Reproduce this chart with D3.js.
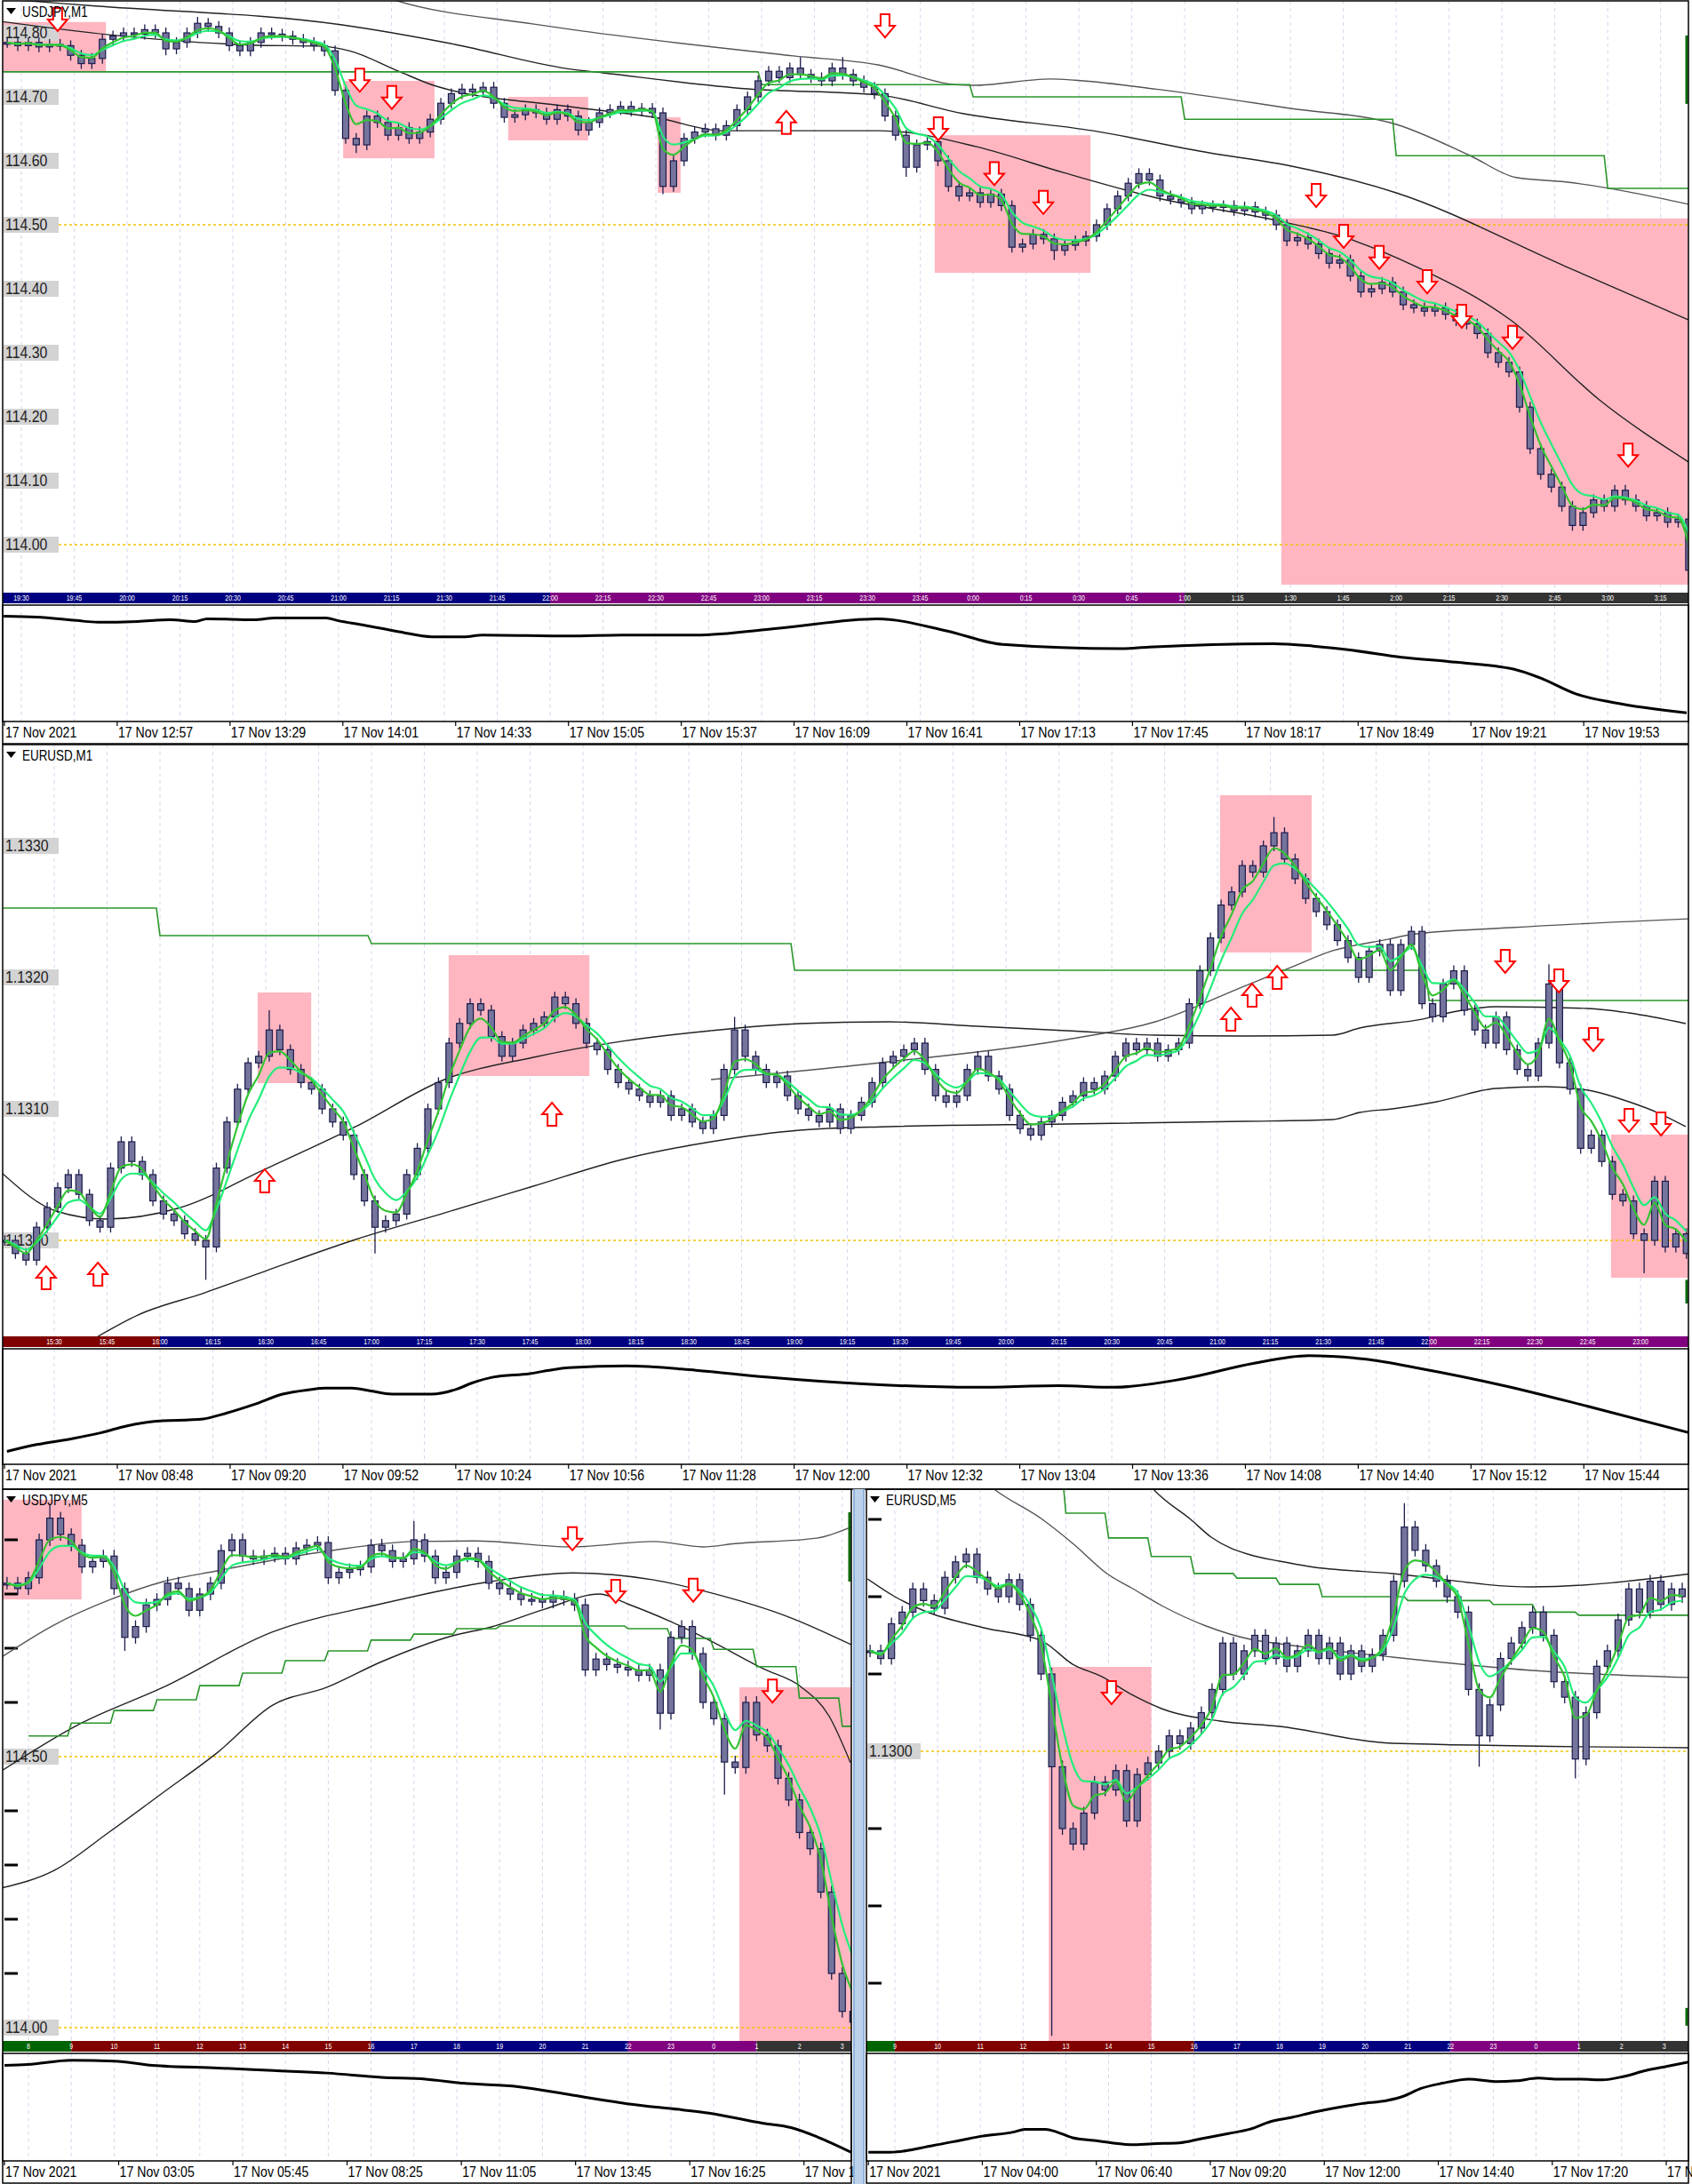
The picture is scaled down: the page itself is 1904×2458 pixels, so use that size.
<!DOCTYPE html>
<html>
<head>
<meta charset="utf-8">
<script src="https://cdn.jsdelivr.net/npm/d3@7"></script>
<style>
body { margin: 0; background: #fff; }
svg { display: block; }
text { font-family: 'Liberation Sans', Arial, sans-serif; }
</style>
</head>
<body>
<div id="chart"></div>
<script>
// ---------- USDJPY M1 (time = minutes after 19:30) ----------
var ujM1BarStart = -4, ujM1BarStep = 3;
var ujM1Close = [
  114.785, 114.780, 114.785, 114.778, 114.782, 114.780, 114.765, 114.752, 114.760, 114.790,
  114.795, 114.800, 114.798, 114.805, 114.800, 114.775, 114.785, 114.800, 114.815, 114.810,
  114.800, 114.780, 114.772, 114.785, 114.800, 114.798, 114.795, 114.790, 114.785, 114.780,
  114.772, 114.710, 114.635, 114.625, 114.670, 114.660, 114.640, 114.652, 114.635, 114.645,
  114.665, 114.690, 114.705, 114.712, 114.708, 114.715, 114.690, 114.668, 114.672, 114.680,
  114.675, 114.665, 114.680, 114.670, 114.648, 114.660, 114.675, 114.680, 114.685, 114.678,
  114.682, 114.675, 114.560, 114.600, 114.635, 114.645, 114.650, 114.640, 114.655, 114.680,
  114.700, 114.725, 114.740, 114.730, 114.745, 114.735, 114.730, 114.725, 114.745, 114.735,
  114.725, 114.715, 114.705, 114.670, 114.640, 114.590, 114.625, 114.630, 114.600, 114.560,
  114.545, 114.550, 114.535, 114.548, 114.530, 114.465, 114.470, 114.485, 114.478, 114.460,
  114.468, 114.475, 114.482, 114.500, 114.525, 114.545, 114.565, 114.580, 114.570, 114.545,
  114.540, 114.535, 114.525, 114.530, 114.528, 114.530, 114.522, 114.528, 114.520, 114.515,
  114.500, 114.475, 114.480, 114.470, 114.455, 114.440, 114.445, 114.420, 114.395, 114.400,
  114.410, 114.395, 114.375, 114.370, 114.365, 114.370, 114.360, 114.350, 114.345, 114.330,
  114.300, 114.285, 114.270, 114.215, 114.150, 114.110, 114.090, 114.060, 114.030, 114.050,
  114.070, 114.060, 114.085, 114.070, 114.060, 114.045, 114.050, 114.035, 114.040, 113.960
];
var ujM1Tails = [[15, 114.765], [18, 114.825], [33, 114.612], [62, 114.548], [75, 114.762], [79, 114.762],
  [85, 114.575], [99, 114.445], [108, 114.588], [159, 113.94]];
var ujM1MaSlow = [[100, 114.862], [106, 114.851], [145, 114.814], [155, 114.806], [219, 114.764], [243, 114.75],
  [265, 114.719], [270, 114.718], [292, 114.728], [299, 114.726], [322, 114.712], [360, 114.682],
  [390, 114.657], [411, 114.608], [424, 114.574], [438, 114.567], [473, 114.532]];
var ujM1MaMid = [[-5, 114.853], [21, 114.842], [91, 114.8125], [123, 114.782], [155, 114.744], [165, 114.7375],
  [206, 114.7125], [243, 114.703], [267, 114.674], [304, 114.647], [337, 114.6125], [360, 114.592],
  [390, 114.55], [438, 114.435], [473, 114.351]];
var ujM1MaFast = [[-6, 114.818], [25, 114.797], [65, 114.781], [85.5, 114.779], [93, 114.772], [107, 114.74],
  [117.5, 114.717], [155, 114.685], [180.5, 114.667], [199, 114.647], [243, 114.647], [248, 114.646],
  [271, 114.622], [296, 114.581], [322, 114.542], [355, 114.508], [375, 114.481], [395.5, 114.435],
  [422.5, 114.351], [447.7, 114.226], [473, 114.129]];
var ujM1Step = [[-6, 114.739], [210, 114.719], [270, 114.700], [330, 114.665], [390, 114.608], [450, 114.557]];
var ujM1StepEnd = 474;
var ujM1Boxes = [[-6, 24, 114.817, 114.74], [91.3, 117.2, 114.725, 114.604], [138.1, 160.8, 114.70, 114.632],
  [180.5, 187, 114.668, 114.55], [259.1, 303.3, 114.64, 114.425], [357.4, 474, 114.51, 113.9375]];
var ujM1Arrows = [[10.3, 114.821, 'd'], [96, 114.726, 'd'], [105.1, 114.699, 'd'], [217, 114.66, 'u'],
  [245, 114.811, 'd'], [260.1, 114.65, 'd'], [276, 114.58, 'd'], [289.9, 114.535, 'd'], [367.3, 114.546, 'd'],
  [375.1, 114.482, 'd'], [385.2, 114.449, 'd'], [398.8, 114.411, 'd'], [408.6, 114.357, 'd'],
  [423, 114.324, 'd'], [455.8, 114.14, 'd']];
var ujM1Sub = [[-5, 91.7], [4.3, 90.9], [15.6, 87.9], [21.7, 86.4], [33, 87.1], [42.3, 88.6], [49.4, 87.1],
  [52.7, 89.4], [66, 88.6], [72.1, 90.2], [86.5, 90.2], [89.7, 87.9], [96.8, 84.1], [107.1, 78], [116.5, 73.5],
  [125.5, 73.5], [130.8, 75], [155.3, 74.2], [170.4, 75], [191.3, 75], [215, 81.1], [242.8, 89.4], [262.4, 78.8],
  [278.3, 66.7], [311.6, 62.9], [319.9, 64.4], [355.2, 67.4], [366.5, 65.2], [377.9, 61.4], [391.5, 55.3],
  [404.8, 51.5], [423.5, 44.7], [430.8, 37.1], [441.1, 22.7], [451.7, 15.2], [472.4, 6.1]];
var ujM1Sessions = [[-10, 150, 'ny'], [150, 330, 'late'], [330, 480, 'asia']];
var ujM1StripLabels = ['19:30', '19:45', '20:00', '20:15', '20:30', '20:45', '21:00', '21:15', '21:30', '21:45',
  '22:00', '22:15', '22:30', '22:45', '23:00', '23:15', '23:30', '23:45', '0:00', '0:15', '0:30', '0:45',
  '1:00', '1:15', '1:30', '1:45', '2:00', '2:15', '2:30', '2:45', '3:00', '3:15'];
var ujM1AxisLabels = ['17 Nov 2021', '17 Nov 12:57', '17 Nov 13:29', '17 Nov 14:01', '17 Nov 14:33', '17 Nov 15:05',
  '17 Nov 15:37', '17 Nov 16:09', '17 Nov 16:41', '17 Nov 17:13', '17 Nov 17:45', '17 Nov 18:17',
  '17 Nov 18:49', '17 Nov 19:21', '17 Nov 19:53'];
var ujM1PriceLabels = [114.8, 114.7, 114.6, 114.5, 114.4, 114.3, 114.2, 114.1, 114.0];
var ujM1PriceTicks = [];
var ujM1Round = [114.5, 114.0];
var ujM1Marker = [114.689, 114.796];

// ---------- EURUSD M1 (time = minutes after 15:30) ----------
var euM1BarStart = -14, euM1BarStep = 3;
var euM1Close = [
  1.13000, 1.12990, 1.12985, 1.13010, 1.13025, 1.13040, 1.13050, 1.13035, 1.13015, 1.13010,
  1.13055, 1.13075, 1.13060, 1.13050, 1.13030, 1.13020, 1.13015, 1.13005, 1.13000, 1.12995,
  1.13055, 1.13090, 1.13115, 1.13135, 1.13140, 1.13160, 1.13145, 1.13130, 1.13120, 1.13115,
  1.13100, 1.13090, 1.13080, 1.13050, 1.13030, 1.13010, 1.13015, 1.13020, 1.13050, 1.13070,
  1.13100, 1.13120, 1.13150, 1.13165, 1.13180, 1.13175, 1.13155, 1.13140, 1.13150, 1.13160,
  1.13165, 1.13170, 1.13185, 1.13180, 1.13165, 1.13150, 1.13145, 1.13130, 1.13120, 1.13115,
  1.13110, 1.13105, 1.13110, 1.13095, 1.13100, 1.13090, 1.13085, 1.13095, 1.13130, 1.13160,
  1.13140, 1.13130, 1.13120, 1.13125, 1.13110, 1.13100, 1.13095, 1.13090, 1.13100, 1.13085,
  1.13095, 1.13105, 1.13120, 1.13135, 1.13140, 1.13145, 1.13150, 1.13130, 1.13110, 1.13105,
  1.13110, 1.13130, 1.13140, 1.13125, 1.13115, 1.13095, 1.13085, 1.13080, 1.13090, 1.13095,
  1.13105, 1.13110, 1.13120, 1.13115, 1.13125, 1.13140, 1.13150, 1.13145, 1.13150, 1.13140,
  1.13145, 1.13150, 1.13180, 1.13205, 1.13230, 1.13255, 1.13265, 1.13285, 1.13280, 1.13300,
  1.13310, 1.13290, 1.13275, 1.13260, 1.13250, 1.13240, 1.13228, 1.13215, 1.13200, 1.13220,
  1.13225, 1.13190, 1.13225, 1.13235, 1.13180, 1.13170, 1.13195, 1.13205, 1.13175, 1.13160,
  1.13150, 1.13170, 1.13145, 1.13130, 1.13125, 1.13150, 1.13195, 1.13135, 1.13115, 1.13070,
  1.13080, 1.13060, 1.13035, 1.13030, 1.13005, 1.13000, 1.13045, 1.12995, 1.13005, 1.12990
];
var euM1Tails = [[19, 1.12970], [25, 1.13175], [35, 1.12990], [69, 1.13170], [120, 1.13322], [146, 1.13210], [155, 1.12975]];
var euM1MaA = [[-14.6, 1.130507], [0.5, 1.130223], [14.9, 1.130162], [35, 1.130243], [60.2, 1.130547],
  [85.5, 1.130865], [110.7, 1.131223], [135.9, 1.131392], [161.1, 1.131514], [186.3, 1.131595],
  [211.5, 1.131649], [236.7, 1.131662], [261.9, 1.131628], [287.1, 1.131595], [312.3, 1.131561],
  [337.5, 1.131554], [362.7, 1.131561], [370.3, 1.131615], [388, 1.131682], [398, 1.131743],
  [408.9, 1.131777], [435.1, 1.131764], [446.7, 1.13173], [462.8, 1.131649]];
var euM1MaB = [[12.4, 1.12927], [23.7, 1.129432], [42.6, 1.129601], [60.2, 1.12977], [85.5, 1.130007],
  [110.7, 1.130209], [135.9, 1.130412], [161.1, 1.130615], [186.3, 1.13075], [211.5, 1.130838],
  [236.7, 1.130865], [287.1, 1.130885], [337.5, 1.130905], [362.7, 1.130919], [370.3, 1.130973],
  [379.6, 1.131], [392.2, 1.131054], [408.9, 1.131155], [423.2, 1.131169], [435.1, 1.131142],
  [446.7, 1.131054], [455.3, 1.130966], [462.8, 1.130865]];
var euM1MaC = [[186.3, 1.131223], [236.7, 1.131358], [287.1, 1.131527], [312.3, 1.131662], [337.5, 1.131932],
  [350.1, 1.132068], [362.7, 1.132203], [378.6, 1.132291], [384.6, 1.132324], [413.1, 1.132378], [464.6, 1.132446]];
var euM1Step = [[-15, 1.132527], [30, 1.132318], [90, 1.132257], [210, 1.132054], [390, 1.131824]];
var euM1StepEnd = 464;
var euM1Boxes = [[57.7, 72.9, 1.131885, 1.131196], [111.9, 151.8, 1.132169, 1.13125],
  [330.7, 356.7, 1.133385, 1.132189], [441.6, 464, 1.130804, 1.129716]];
var euM1Arrows = [[-2.3, 1.129716, 'u'], [12.4, 1.129743, 'u'], [59.7, 1.130453, 'u'], [141.2, 1.130959, 'u'],
  [333.8, 1.131682, 'u'], [339.8, 1.131865, 'u'], [346.9, 1.132, 'u'], [411.6, 1.132122, 'd'],
  [426.8, 1.131973, 'd'], [436.6, 1.131527, 'd'], [446.7, 1.130912, 'd'], [455.8, 1.130885, 'd']];
var euM1Sub = [[-13.4, 9.9], [-5, 16], [5.3, 21.4], [13.4, 26.7], [20.7, 32.8], [27.7, 36.6], [42.3, 38.9],
  [46.4, 42], [56.7, 51.9], [64.8, 61.1], [72.1, 64.9], [77.1, 66.4], [84.4, 66.4], [89.5, 64.1], [95.8, 61.1],
  [107.1, 61.1], [114.2, 65.6], [118.5, 71], [124.5, 76.3], [134.9, 79.4], [141.9, 83.2], [146, 84.7],
  [162.3, 86.3], [182, 82.4], [201.9, 76.3], [229.4, 70.2], [261.2, 67.2], [284.8, 68.7], [300.5, 67.2],
  [320.4, 74.8], [340.1, 88.5], [355.9, 95.4], [371.6, 92.4], [387.5, 84], [411.2, 68.7], [434.8, 50.4], [464.6, 26]];
var euM1Sessions = [[-20, 30, 'eu'], [30, 390, 'ny'], [390, 480, 'late']];
var euM1StripLabels = ['15:30', '15:45', '16:00', '16:15', '16:30', '16:45', '17:00', '17:15', '17:30', '17:45',
  '18:00', '18:15', '18:30', '18:45', '19:00', '19:15', '19:30', '19:45', '20:00', '20:15', '20:30', '20:45',
  '21:00', '21:15', '21:30', '21:45', '22:00', '22:15', '22:30', '22:45', '23:00'];
var euM1AxisLabels = ['17 Nov 2021', '17 Nov 08:48', '17 Nov 09:20', '17 Nov 09:52', '17 Nov 10:24', '17 Nov 10:56',
  '17 Nov 11:28', '17 Nov 12:00', '17 Nov 12:32', '17 Nov 13:04', '17 Nov 13:36', '17 Nov 14:08',
  '17 Nov 14:40', '17 Nov 15:12', '17 Nov 15:44'];
var euM1PriceLabels = [1.1330, 1.1320, 1.1310, 1.1300];
var euM1PriceTicks = [];
var euM1Round = [1.1300];
var euM1Marker = [1.12952, 1.12970];

// ---------- USDJPY M5 (time = hours after 08:00) ----------
var ujM5BarStart = -0.5, ujM5BarStep = 0.25;
var ujM5Close = [
  114.82, 114.81, 114.83, 114.90, 114.94, 114.91, 114.89, 114.85, 114.86, 114.87,
  114.81, 114.72, 114.74, 114.78, 114.79, 114.82, 114.81, 114.77, 114.80, 114.82,
  114.88, 114.90, 114.87, 114.865, 114.87, 114.875, 114.865, 114.885, 114.89, 114.895,
  114.83, 114.84, 114.845, 114.85, 114.89, 114.88, 114.86, 114.865, 114.90, 114.87,
  114.83, 114.84, 114.87, 114.875, 114.86, 114.82, 114.81, 114.80, 114.79, 114.79,
  114.785, 114.795, 114.79, 114.78, 114.66, 114.68, 114.67, 114.665, 114.66, 114.65,
  114.66, 114.58, 114.72, 114.74, 114.69, 114.60, 114.57, 114.49, 114.48, 114.60,
  114.54, 114.52, 114.46, 114.42, 114.36, 114.33, 114.25, 114.10, 114.03, 114.01
];
var ujM5Tails = [[4, 114.965], [11, 114.695], [38, 114.935], [61, 114.55], [67, 114.43], [79, 113.99]];
var ujM5MaA = [[-0.66, 114.682], [0.6, 114.743], [1.89, 114.789], [3.15, 114.823], [4.42, 114.843],
  [6.97, 114.879], [9.0, 114.897], [10.41, 114.898], [12.7, 114.887], [14.6, 114.897], [15.75, 114.887],
  [16.5, 114.893], [18.4, 114.903], [19.25, 114.925]];
var ujM5MaB = [[-0.66, 114.472], [1.24, 114.562], [3.15, 114.628], [5.7, 114.73], [8.24, 114.782],
  [10.79, 114.823], [12.7, 114.839], [14.6, 114.826], [15.89, 114.803], [17.8, 114.756], [19.25, 114.705]];
var ujM5MaC = [[-0.66, 114.257], [0.6, 114.29], [1.89, 114.361], [3.15, 114.434], [4.42, 114.508],
  [5.7, 114.595], [6.97, 114.628], [8.24, 114.675], [9.9, 114.723], [10.79, 114.739], [12.05, 114.772],
  [13.34, 114.8], [13.98, 114.782], [15.0, 114.749], [15.89, 114.715], [17.16, 114.662], [18.05, 114.628],
  [18.69, 114.575], [19.19, 114.489]];
var ujM5Step = [[0, 114.538], [1, 114.562], [2, 114.585], [3, 114.605], [4, 114.631], [5, 114.654],
  [6, 114.677], [7, 114.695], [8, 114.715], [9, 114.726], [10, 114.736], [11, 114.741], [14, 114.736],
  [15, 114.718], [16, 114.698], [17, 114.666], [18, 114.608], [19, 114.556]];
var ujM5StepEnd = 19.25;
var ujM5Boxes = [[-0.7, 1.24, 114.974, 114.79], [16.6, 19.3, 114.628, 113.95]];
var ujM5Arrows = [[12.7, 114.902, 'd'], [13.71, 114.805, 'd'], [15.52, 114.807, 'd'], [17.37, 114.621, 'd']];
var ujM5Sub = [[-0.56, 90.2], [-0.02, 91], [1.0, 95.1], [2.01, 94.3], [2.9, 90.2], [4.42, 87.7], [5.71, 85.2],
  [6.97, 82.8], [8.24, 78.7], [9.27, 77], [10.15, 73], [11.43, 69.7], [12.7, 61.5], [13.98, 53.3],
  [15.25, 47.5], [15.89, 44.3], [17.16, 34.4], [17.8, 30.3], [18.42, 21.3], [19.25, 5.7]];
var ujM5Sessions = [[-1, 1, 'pre'], [1, 8, 'eu'], [8, 14, 'ny'], [14, 17, 'late'], [17, 21, 'asia']];
var ujM5StripLabels = ['8', '9', '10', '11', '12', '13', '14', '15', '16', '17', '18', '19', '20', '21', '22', '23', '0', '1', '2', '3'];
// the last date is cut by the window edge in the original
var ujM5AxisLabels = ['17 Nov 2021', '17 Nov 03:05', '17 Nov 05:45', '17 Nov 08:25', '17 Nov 11:05',
  '17 Nov 13:45', '17 Nov 16:25', '17 Nov 19'];
var ujM5PriceLabels = [114.5, 114.0];
var ujM5PriceTicks = [114.9, 114.8, 114.7, 114.6, 114.4, 114.3, 114.2, 114.1];
var ujM5Round = [114.5, 114.0];
var ujM5Marker = [114.823, 114.951];

// ---------- EURUSD M5 (time = hours after 09:00) ----------
var euM5BarStart = -0.58, euM5BarStep = 0.25;
var euM5Close = [
  1.13130, 1.13120, 1.13165, 1.13180, 1.13210, 1.13195, 1.13185, 1.13225, 1.13245, 1.13255,
  1.13225, 1.13210, 1.13200, 1.13222, 1.13190, 1.13150, 1.13100, 1.12980, 1.12900, 1.12880,
  1.12920, 1.12960, 1.12950, 1.12975, 1.12910, 1.12970, 1.12985, 1.13000, 1.13020, 1.13010,
  1.13030, 1.13050, 1.13080, 1.13140, 1.13100, 1.13130, 1.13150, 1.13120, 1.13140, 1.13110,
  1.13130, 1.13150, 1.13120, 1.13140, 1.13100, 1.13130, 1.13110, 1.13125, 1.13150, 1.13220,
  1.13290, 1.13260, 1.13240, 1.13220, 1.13200, 1.13180, 1.13080, 1.13020, 1.13060, 1.13120,
  1.13140, 1.13160, 1.13180, 1.13150, 1.13090, 1.13070, 1.12990, 1.13050, 1.13110, 1.13130,
  1.13170, 1.13210, 1.13180, 1.13220, 1.13190, 1.13210, 1.13200
];
var euM5Tails = [[17, 1.12632], [50, 1.13321], [57, 1.12980], [66, 1.12965]];
var euM5MaA = [[1.2, 1.13395], [2.35, 1.133379], [3.45, 1.133], [4.16, 1.13269], [4.99, 1.132287],
  [5.53, 1.132115], [6.24, 1.131885], [7.28, 1.131621], [8.32, 1.131448], [9.0, 1.131391],
  [11.64, 1.131218], [14.9, 1.131046], [18.65, 1.130954]];
var euM5MaB = [[-0.64, 1.13223], [0, 1.132], [0.69, 1.131816], [2.08, 1.131598], [3.45, 1.131425],
  [4.16, 1.131126], [4.84, 1.130966], [5.53, 1.130736], [6.24, 1.130552], [7.61, 1.130391], [9.0, 1.130322],
  [11.64, 1.130103], [18.65, 1.130046]];
var euM5MaC = [[5.5, 1.1338], [6.03, 1.133402], [6.92, 1.133], [7.4, 1.13277], [8.32, 1.13254], [9.0, 1.13246],
  [9.69, 1.132391], [11.64, 1.132299], [14.9, 1.132126], [18.65, 1.132299]];
var euM5Step = [[-0.62, 1.1336], [4, 1.13308], [5, 1.13276], [6, 1.13252], [7, 1.1323], [8, 1.13224],
  [9, 1.13216], [10, 1.1320], [12, 1.13195], [14, 1.1319], [15, 1.1318], [16, 1.13176]];
var euM5StepEnd = 18.6;
var euM5Boxes = [[3.6, 6.0, 1.131092, 1.12625]];
var euM5Arrows = [[5.07, 1.130759, 'd']];
var euM5Sub = [[-0.62, 6.6], [-0.1, 6.6], [0.89, 13.1], [1.52, 18], [2.04, 22.1], [2.79, 26.2], [3.04, 28.7],
  [3.53, 28.7], [3.78, 26.2], [4.16, 20.5], [4.66, 18], [5.53, 13.9], [6.03, 14.8], [6.65, 15.6], [7.17, 19.7],
  [7.8, 24.6], [8.3, 28.7], [8.79, 36.1], [9.29, 40.2], [9.79, 45.1], [10.29, 49.2], [10.91, 53.3],
  [11.54, 56.6], [11.91, 60.7], [12.31, 68], [12.81, 73], [13.43, 77], [14.05, 74.6], [14.55, 75.4],
  [15.05, 77.9], [15.55, 77], [16.05, 77], [16.55, 76.2], [17.05, 79.5], [17.57, 85.2], [18.07, 89.3], [18.57, 93.4]];
var euM5Sessions = [[-1, 0, 'pre'], [0, 7, 'eu'], [7, 13, 'ny'], [13, 16, 'late'], [16, 20, 'asia']];
var euM5StripLabels = ['9', '10', '11', '12', '13', '14', '15', '16', '17', '18', '19', '20', '21', '22', '23', '0', '1', '2', '3'];
var euM5AxisLabels = ['17 Nov 2021', '17 Nov 04:00', '17 Nov 06:40', '17 Nov 09:20', '17 Nov 12:00',
  '17 Nov 14:40', '17 Nov 17:20', '17 No'];
var euM5PriceLabels = [1.1300];
var euM5PriceTicks = [1.1330, 1.1320, 1.1310, 1.1290, 1.1280, 1.1270];
var euM5Round = [1.1300];
var euM5Marker = [1.12645, 1.12668];

// ---------- drawing ----------
var sessionColor = { pre: '#006400', eu: '#800000', ny: '#000080', late: '#800080', asia: '#333333' };

var svg = d3.select('#chart').append('svg').attr('width', 1904).attr('height', 2458);
var defs = svg.append('defs');

function ema(vals, n) {
  var k = 2 / (n + 1), e = vals[0];
  return vals.map(function (v, i) { e = i ? v * k + e * (1 - k) : v; return e; });
}

function arrowPath(dir) {
  if (dir === 'u') return 'M-5,13L5,13L5,0L11,0L0,-13L-11,0L-5,0Z';
  return 'M-5,-13L5,-13L5,0L11,0L0,13L-11,0L-5,0Z';
}

// narrow text like the terminal font
function narrowText(sel, sx) {
  sel.attr('transform', function () {
    var t = d3.select(this), x0 = +t.attr('x'), y0 = +t.attr('y');
    return 'translate(' + x0 + ',' + y0 + ') scale(' + sx + ',1) translate(' + (-x0) + ',' + (-y0) + ')';
  });
}

function drawPanel(L, D) {
  var x = d3.scaleLinear().domain(L.xDomain).range(L.xRange);
  var y = d3.scaleLinear().domain(L.yDomain).range(L.yRange);
  var sy = d3.scaleLinear().domain([0, 100]).range([L.subY[1] - 2, L.subY[0] + 2]);
  var g = svg.append('g');

  defs.append('clipPath').attr('id', L.id + 'p').append('rect')
    .attr('x', L.left).attr('y', L.top).attr('width', L.right - L.left).attr('height', L.strip[0] - L.top);
  defs.append('clipPath').attr('id', L.id + 's').append('rect')
    .attr('x', L.left).attr('y', L.subY[0]).attr('width', L.right - L.left).attr('height', L.subY[1] - L.subY[0]);
  defs.append('clipPath').attr('id', L.id + 'a').append('rect')
    .attr('x', L.left).attr('y', L.top).attr('width', L.right - L.left).attr('height', L.bottom - L.top);

  var gridT = D.stripLabels.map(function (s, i) { return i * D.stripStep; });

  // price area
  var pa = g.append('g').attr('clip-path', 'url(#' + L.id + 'p)');
  pa.selectAll('line.grid').data(gridT).enter().append('line')
    .attr('x1', d => x(d)).attr('x2', d => x(d)).attr('y1', L.top).attr('y2', L.strip[0])
    .attr('stroke', '#d6d6ee').attr('stroke-dasharray', '4,4');

  pa.selectAll('rect.box').data(D.boxes).enter().append('rect')
    .attr('x', d => x(d[0])).attr('width', d => x(d[1]) - x(d[0]))
    .attr('y', d => y(d[2])).attr('height', d => y(d[3]) - y(d[2]))
    .attr('fill', '#ffb6c1');

  pa.selectAll('line.tick').data(D.priceTicks).enter().append('line')
    .attr('x1', L.left + 2).attr('x2', L.left + 17).attr('y1', d => y(d)).attr('y2', d => y(d))
    .attr('stroke', '#000').attr('stroke-width', 3);

  var labs = pa.selectAll('g.plab').data(D.priceLabels).enter().append('g');
  labs.append('rect').attr('x', L.left + 1).attr('y', d => y(d) - 9).attr('width', L.labW).attr('height', 18)
    .attr('fill', '#d3d3d3');
  labs.append('text').attr('x', L.left + 3).attr('y', d => y(d) + 6.5).attr('font-size', 18.5).attr('fill', '#222')
    .text(d => d.toFixed(L.decimals)).call(narrowText, 0.86);

  pa.selectAll('line.round').data(D.round).enter().append('line')
    .attr('x1', L.left + L.labW + 1).attr('x2', L.right).attr('y1', d => y(d)).attr('y2', d => y(d))
    .attr('stroke', '#f2c200').attr('stroke-width', 1.4).attr('stroke-dasharray', '3,3');

  var line = d3.line().x(d => x(d[0])).y(d => y(d[1])).curve(d3.curveMonotoneX);
  D.mas.forEach(function (m, i) {
    pa.append('path').attr('d', line(m)).attr('fill', 'none')
      .attr('stroke', i === 0 ? '#555' : '#222').attr('stroke-width', 1.4);
  });

  // hourly step line
  var st = [];
  D.step.forEach(function (s, i) {
    var next = i < D.step.length - 1 ? D.step[i + 1][0] - L.slant : D.stepEnd;
    st.push([s[0], s[1]], [next, s[1]]);
  });
  pa.append('path').attr('d', d3.line().x(d => x(d[0])).y(d => y(d[1]))(st))
    .attr('fill', 'none').attr('stroke', '#2a962a').attr('stroke-width', 1.6);

  // candles
  var bars = D.close.map(function (c, i) {
    var o = i ? D.close[i - 1] : c;
    return { t: D.barStart + i * D.barStep, o: o, c: c, hi: Math.max(o, c), lo: Math.min(o, c) };
  });
  var tails = {};
  D.tails.forEach(function (t) { tails[t[0]] = t[1]; });
  var cg = pa.append('g');
  cg.selectAll('line.wick').data(bars).enter().append('line')
    .attr('x1', d => x(d.t)).attr('x2', d => x(d.t))
    .attr('y1', (d, i) => Math.min(y(d.hi) - L.wickPx, tails[i] !== undefined ? y(tails[i]) : 1e9))
    .attr('y2', (d, i) => Math.max(y(d.lo) + L.wickPx, tails[i] !== undefined ? y(tails[i]) : -1e9))
    .attr('stroke', '#1c1c4c').attr('stroke-width', 1.3);
  cg.selectAll('rect.body').data(bars).enter().append('rect')
    .attr('x', d => x(d.t) - L.bodyW / 2).attr('width', L.bodyW)
    .attr('y', d => y(d.hi)).attr('height', d => Math.max(2, y(d.lo) - y(d.hi)))
    .attr('fill', '#74749c').attr('stroke', '#1c1c4c').attr('stroke-width', 1.2);

  // fast averages
  var fast = ema(D.close, 3), slow = ema(D.close, 5);
  var eLine = d3.line().x((d, i) => x(bars[i].t)).y(d => y(d)).curve(d3.curveMonotoneX);
  pa.append('path').attr('d', eLine(slow)).attr('fill', 'none').attr('stroke', '#22ee7a').attr('stroke-width', 2.2);
  pa.append('path').attr('d', eLine(fast)).attr('fill', 'none').attr('stroke', '#33c433').attr('stroke-width', 2.2);

  // arrows
  pa.selectAll('path.arrow').data(D.arrows).enter().append('path')
    .attr('d', d => arrowPath(d[2]))
    .attr('transform', d => 'translate(' + x(d[0]) + ',' + y(d[1]) + ')')
    .attr('fill', '#fff').attr('stroke', '#ff0000').attr('stroke-width', 2);

  // right edge marker
  pa.append('line').attr('x1', L.right - 2).attr('x2', L.right - 2)
    .attr('y1', y(D.marker[0])).attr('y2', y(D.marker[1])).attr('stroke', '#0a6a0a').attr('stroke-width', 3);

  // title
  g.append('path').attr('d', 'M' + (L.left + 4) + ',' + (L.top + 8) + 'h11l-5.5,7z').attr('fill', '#000');
  g.append('text').attr('x', L.left + 22).attr('y', L.top + 18).attr('font-size', 16).attr('fill', '#000')
    .text(D.title).call(narrowText, 0.84);

  // session strip
  var sg = g.append('g').attr('clip-path', 'url(#' + L.id + 'a)');
  sg.selectAll('rect.sess').data(D.sessions).enter().append('rect')
    .attr('x', d => Math.max(L.left, x(d[0])))
    .attr('width', d => Math.max(0, Math.min(L.right, x(d[1])) - Math.max(L.left, x(d[0]))))
    .attr('y', L.strip[0]).attr('height', L.strip[1] - L.strip[0])
    .attr('fill', d => sessionColor[d[2]]);
  sg.selectAll('text.sl').data(D.stripLabels).enter().append('text')
    .attr('x', (d, i) => x(gridT[i])).attr('y', L.strip[1] - 2.5).attr('text-anchor', 'middle')
    .attr('font-size', 9).attr('fill', '#fff').text(d => d).call(narrowText, 0.78);

  // sub window
  var sw = g.append('g').attr('clip-path', 'url(#' + L.id + 's)');
  sw.selectAll('line.grid').data(gridT).enter().append('line')
    .attr('x1', d => x(d)).attr('x2', d => x(d)).attr('y1', L.subY[0]).attr('y2', L.subY[1])
    .attr('stroke', '#d6d6ee').attr('stroke-dasharray', '4,4');
  sw.append('path').attr('d', d3.line().x(d => x(d[0])).y(d => sy(d[1])).curve(d3.curveMonotoneX)(D.sub))
    .attr('fill', 'none').attr('stroke', '#000').attr('stroke-width', 3);

  // frames
  g.append('rect').attr('x', L.left).attr('y', L.subY[0]).attr('width', L.right - L.left)
    .attr('height', L.subY[1] - L.subY[0]).attr('fill', 'none').attr('stroke', '#000').attr('stroke-width', 1.5);
  g.append('rect').attr('x', L.left).attr('y', L.top).attr('width', L.right - L.left)
    .attr('height', L.bottom - L.top).attr('fill', 'none').attr('stroke', '#000').attr('stroke-width', 1.5);

  // bottom time axis
  var ag = g.append('g');
  var axT = D.axisLabels.map((s, i) => D.axisT0 + i * D.axisStep);
  ag.selectAll('line.at').data(axT).enter().append('line')
    .attr('x1', d => x(d)).attr('x2', d => x(d)).attr('y1', L.subY[1]).attr('y2', L.subY[1] + 5)
    .attr('stroke', '#000').attr('stroke-width', 1.2);
  ag.selectAll('text.at').data(D.axisLabels).enter().append('text')
    .attr('x', (d, i) => x(axT[i]) + 1).attr('y', L.subY[1] + 18).attr('font-size', 16.5).attr('fill', '#000')
    .text(d => d).call(narrowText, 0.86);
}

drawPanel(
  { id: 'a', left: 3, right: 1900, top: 1, bottom: 837, strip: [667, 679], subY: [681, 812],
    xDomain: [0, 465], xRange: [24, 24 + 465 * 3.967], yDomain: [114.0, 114.5], yRange: [613, 253],
    labW: 62, decimals: 2, bodyW: 7, wickPx: 6, slant: 1 },
  { title: 'USDJPY,M1', close: ujM1Close, tails: ujM1Tails, barStart: ujM1BarStart, barStep: ujM1BarStep,
    mas: [ujM1MaSlow, ujM1MaMid, ujM1MaFast], step: ujM1Step, stepEnd: ujM1StepEnd, boxes: ujM1Boxes,
    arrows: ujM1Arrows, sub: ujM1Sub, sessions: ujM1Sessions, stripLabels: ujM1StripLabels, stripStep: 15,
    axisLabels: ujM1AxisLabels, axisT0: -4.8, axisStep: 32, priceLabels: ujM1PriceLabels,
    priceTicks: ujM1PriceTicks, round: ujM1Round, marker: ujM1Marker });

drawPanel(
  { id: 'b', left: 3, right: 1900, top: 838, bottom: 1676, strip: [1504, 1516], subY: [1518, 1648],
    xDomain: [0, 450], xRange: [61, 61 + 450 * 3.967], yDomain: [1.1300, 1.1310], yRange: [1396, 1248],
    labW: 62, decimals: 4, bodyW: 7, wickPx: 6, slant: 1 },
  { title: 'EURUSD,M1', close: euM1Close, tails: euM1Tails, barStart: euM1BarStart, barStep: euM1BarStep,
    mas: [euM1MaC, euM1MaA, euM1MaB], step: euM1Step, stepEnd: euM1StepEnd, boxes: euM1Boxes,
    arrows: euM1Arrows, sub: euM1Sub, sessions: euM1Sessions, stripLabels: euM1StripLabels, stripStep: 15,
    axisLabels: euM1AxisLabels, axisT0: -14.1, axisStep: 32, priceLabels: euM1PriceLabels,
    priceTicks: euM1PriceTicks, round: euM1Round, marker: euM1Marker });

drawPanel(
  { id: 'c', left: 3, right: 958, top: 1676, bottom: 2457, strip: [2297, 2309], subY: [2311, 2432],
    xDomain: [0, 19], xRange: [32, 32 + 19 * 48.2], yDomain: [114.0, 114.5], yRange: [2282, 1977],
    labW: 62, decimals: 2, bodyW: 7, wickPx: 7, slant: 1 / 12 },
  { title: 'USDJPY,M5', close: ujM5Close, tails: ujM5Tails, barStart: ujM5BarStart, barStep: ujM5BarStep,
    mas: [ujM5MaA, ujM5MaB, ujM5MaC], step: ujM5Step, stepEnd: ujM5StepEnd, boxes: ujM5Boxes,
    arrows: ujM5Arrows, sub: ujM5Sub, sessions: ujM5Sessions, stripLabels: ujM5StripLabels, stripStep: 1,
    axisLabels: ujM5AxisLabels, axisT0: -0.56, axisStep: 8 / 3, priceLabels: ujM5PriceLabels,
    priceTicks: ujM5PriceTicks, round: ujM5Round, marker: ujM5Marker });

drawPanel(
  { id: 'd', left: 975, right: 1900, top: 1676, bottom: 2457, strip: [2297, 2309], subY: [2311, 2432],
    xDomain: [0, 18], xRange: [1007, 1007 + 18 * 48.1], yDomain: [1.1300, 1.1310], yRange: [1971, 1884],
    labW: 60, decimals: 4, bodyW: 7, wickPx: 7, slant: 1 / 12 },
  { title: 'EURUSD,M5', close: euM5Close, tails: euM5Tails, barStart: euM5BarStart, barStep: euM5BarStep,
    mas: [euM5MaA, euM5MaB, euM5MaC], step: euM5Step, stepEnd: euM5StepEnd, boxes: euM5Boxes,
    arrows: euM5Arrows, sub: euM5Sub, sessions: euM5Sessions, stripLabels: euM5StripLabels, stripStep: 1,
    axisLabels: euM5AxisLabels, axisT0: -0.62, axisStep: 8 / 3, priceLabels: euM5PriceLabels,
    priceTicks: euM5PriceTicks, round: euM5Round, marker: euM5Marker });

// splitter between the two lower charts
svg.append('rect').attr('x', 960).attr('y', 1676).attr('width', 13).attr('height', 782).attr('fill', '#bcd2ea');
svg.append('line').attr('x1', 961).attr('x2', 961).attr('y1', 1676).attr('y2', 2458).attr('stroke', '#8fb3dc').attr('stroke-width', 2);
svg.append('line').attr('x1', 972).attr('x2', 972).attr('y1', 1676).attr('y2', 2458).attr('stroke', '#8fb3dc').attr('stroke-width', 2);
</script>
</body>
</html>
